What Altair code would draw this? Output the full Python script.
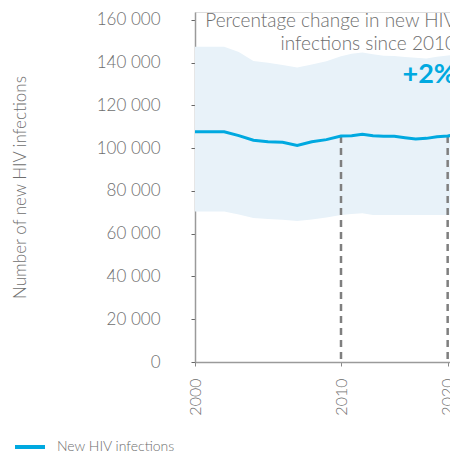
import altair as alt
import pandas as pd

years = list(range(2000, 2023))
new_infections = [107700, 107700, 107700, 105900, 103700, 103000, 102800, 101300, 103000, 104000,
                  105700, 105800, 106500, 105800, 105600, 105600, 104900, 104300, 104600, 105400,
                  105700, 106500, 107800]
upper = [147500, 147500, 147500, 145000, 140800, 140000, 138900, 137700, 139200, 140700,
         143000, 144200, 144800, 143900, 143200, 143100, 142700, 142300, 142000, 142800,
         143300, 144000, 144500]
lower = [70400, 70400, 70400, 69000, 67300, 66900, 66500, 66000, 66600, 67600,
         68700, 69200, 69600, 68800, 68700, 68700, 68700, 68700, 68700, 68700,
         68700, 68800, 69000]
ref_years = [2010, 2020]
x_ticks = [2000, 2010, 2020]
y_ticks = [0, 20000, 40000, 60000, 80000, 100000, 120000, 140000, 160000]
series_name = "New HIV infections"
title_lines = ["Percentage change in new HIV", "infections since 2010"]
change_label = "+2%"

df = pd.DataFrame({"year": years, "value": new_infections, "upper": upper, "lower": lower,
                   "series": [series_name] * len(years)})
ref_df = df[df["year"].isin(ref_years)]

FONT = "Lato"
GREY = "#6e6e6e"
BLUE = "#00a9e0"
W = 255

xscale = alt.Scale(domain=[2000, 2010, 2022], range=[0, 146, 274])
yscale = alt.Scale(domain=[0, 163700], nice=False, zero=True)

xaxis = alt.Axis(values=x_ticks, format="d", labelAngle=-90, labelAlign="right", labelBaseline="middle",
                 labelFontSize=16, labelColor=GREY, labelFont=FONT, labelFontWeight=300,
                 labelPadding=12, tickSize=4,
                 tickColor="#888", domainColor="#9a9a9a", domainWidth=1.5, grid=False, title=None)
yaxis = alt.Axis(values=y_ticks, labelExpr="replace(format(datum.value, ',d'), ',', ' ')",
                 labelFontSize=17, labelColor=GREY, labelFont=FONT, labelFontWeight=300,
                 labelPadding=31, tickSize=4,
                 tickColor="#666", domainColor="#9a9a9a", domainWidth=1.5, grid=False,
                 title="Number of new HIV infections", titleFont=FONT, titleFontSize=17,
                 titleFontWeight=300, titleColor=GREY, titleAngle=-90, titleX=-175, titleY=175,
                 titleAlign="center", titleBaseline="middle")

band = alt.Chart(df).mark_area(color="#e8f2f9", clip=True).encode(
    x=alt.X("year:Q", scale=xscale, axis=xaxis),
    y=alt.Y("upper:Q", scale=yscale, axis=yaxis),
    y2="lower:Q",
)

rules = alt.Chart(ref_df).mark_rule(color="#7f7f7f", strokeWidth=2.5, strokeDash=[7, 5]).encode(
    x=alt.X("year:Q", scale=xscale),
    y=alt.Y("value:Q", scale=yscale),
    y2=alt.datum(0),
)

line = alt.Chart(df).mark_line(strokeWidth=3, clip=True).encode(
    x=alt.X("year:Q", scale=xscale),
    y=alt.Y("value:Q", scale=yscale),
    color=alt.Color("series:N", scale=alt.Scale(range=[BLUE]),
                    legend=alt.Legend(title=None, orient="none", legendX=-182, legendY=418,
                                      symbolType="stroke", symbolSize=900, symbolStrokeWidth=4,
                                      labelFont=FONT, labelFontSize=14, labelFontWeight=300,
                                      labelColor=GREY, labelOffset=10, padding=0)),
)

t1 = alt.Chart(pd.DataFrame({"t": [title_lines[0]]})).mark_text(
    align="right", baseline="alphabetic", font=FONT, fontSize=19, fontWeight=300, color=GREY
).encode(x=alt.value(W + 6), y=alt.value(15), text="t:N")
t2 = alt.Chart(pd.DataFrame({"t": [title_lines[1]]})).mark_text(
    align="right", baseline="alphabetic", font=FONT, fontSize=19, fontWeight=300, color=GREY
).encode(x=alt.value(W + 6), y=alt.value(38), text="t:N")
t3 = alt.Chart(pd.DataFrame({"t": [change_label]})).mark_text(
    align="right", baseline="alphabetic", font=FONT, fontSize=27, fontWeight="bold", color=BLUE
).encode(x=alt.value(W + 6), y=alt.value(71), text="t:N")

chart = alt.layer(band, rules, line, t1, t2, t3).properties(
    width=W, height=350,
    autosize=alt.AutoSizeParams(type="none"),
    padding={"left": 187, "top": 4, "right": 0, "bottom": 92},
).configure_view(stroke=None).configure(font=FONT)

chart.save("out.html", embed_options={"renderer": "svg", "actions": False})
